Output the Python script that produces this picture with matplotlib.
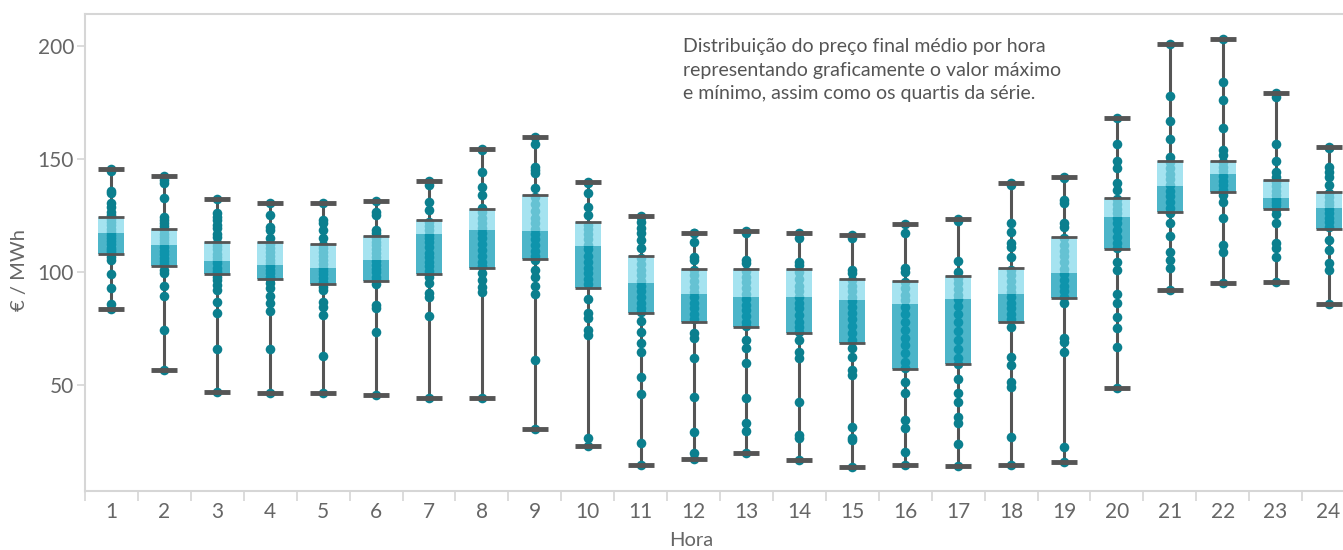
import matplotlib
matplotlib.use("Agg")
import matplotlib.pyplot as plt
import numpy as np

plt.rcParams['font.family'] = ['Lato', 'DejaVu Sans']

hours = list(range(1, 25))

# box stats
q1 = [108.1, 102.8, 99.1, 96.8, 94.8, 96.0, 99.1, 101.9, 105.9, 93.1, 82.0, 78.0,
      75.8, 73.0, 68.6, 57.2, 59.4, 78.0, 88.5, 110.3, 126.7, 135.4, 127.9, 119.0]
med = [117.3, 111.9, 104.9, 103.1, 101.8, 105.3, 116.8, 118.6, 118.1, 111.5, 95.1, 90.3,
       88.9, 89.1, 87.6, 86.0, 88.2, 90.3, 99.4, 124.5, 138.0, 143.4, 132.6, 128.3]
q3 = [124.5, 119.2, 113.3, 113.3, 112.4, 115.9, 123.1, 127.9, 134.1, 122.3, 107.2, 101.5,
      101.5, 101.2, 97.0, 96.2, 98.4, 101.9, 115.6, 132.9, 149.1, 149.1, 140.7, 135.3]

# individual daily prices per hour
h01 = [145.6, 144.8, 136.0, 134.8, 130.4, 128.6, 126.7, 125.2, 123.5, 122.0, 120.6, 119.0, 117.8,
       116.5, 115.0, 113.6, 112.2, 110.8, 109.6, 109.0, 106.8, 105.3, 99.0, 93.0, 85.7, 83.6]
h02 = [142.6, 140.7, 139.2, 132.6, 124.5, 123.0, 121.5, 120.2, 118.5, 117.0, 115.6, 114.0, 112.8,
       111.0, 109.5, 108.0, 106.4, 104.8, 103.5, 100.9, 99.4, 93.9, 89.4, 74.5, 56.8]
h03 = [132.3, 126.0, 124.5, 123.0, 120.8, 119.3, 117.0, 115.5, 113.0, 111.5, 110.0, 108.2, 106.5,
       105.2, 103.8, 102.0, 100.5, 99.5, 97.9, 96.5, 94.2, 92.0, 86.6, 82.0, 66.1, 47.0]
h04 = [130.7, 125.2, 120.0, 118.6, 114.9, 112.5, 110.8, 109.0, 107.3, 105.5, 104.0, 102.5, 100.8,
       99.5, 98.0, 97.0, 95.0, 92.8, 89.4, 86.2, 82.9, 66.1, 46.6]
h05 = [130.7, 123.0, 121.5, 118.6, 114.9, 112.0, 110.5, 108.8, 107.0, 105.2, 103.5, 102.0, 100.5,
       99.0, 97.5, 95.5, 93.5, 92.0, 86.9, 84.6, 81.0, 62.8, 46.3]
h06 = [131.5, 126.7, 125.2, 118.6, 117.1, 115.0, 113.5, 111.8, 110.0, 108.3, 106.5, 105.0, 103.2,
       101.5, 99.8, 98.0, 96.5, 94.6, 85.4, 83.9, 73.6, 45.6]
h07 = [140.4, 138.5, 131.1, 127.4, 122.0, 120.2, 118.5, 116.5, 115.0, 113.4, 111.0, 108.5, 106.5,
       104.6, 102.5, 100.5, 99.3, 97.9, 95.0, 90.6, 89.1, 80.7, 44.1]
h08 = [154.4, 154.0, 144.4, 137.7, 134.1, 128.2, 126.5, 124.0, 121.5, 119.5, 117.5, 114.9, 112.5,
       109.7, 107.0, 104.5, 102.5, 99.4, 96.5, 93.5, 91.3, 44.1]
h09 = [159.9, 156.6, 146.6, 145.1, 143.7, 137.0, 133.0, 130.0, 127.0, 124.0, 121.5, 119.0, 117.0,
       114.5, 112.0, 109.5, 107.0, 105.3, 100.9, 97.9, 93.9, 90.3, 61.1, 30.7]
h10 = [140.0, 139.2, 134.8, 128.6, 125.2, 121.0, 119.0, 117.0, 114.5, 112.0, 110.0, 107.0, 104.5,
       102.0, 99.5, 97.0, 94.5, 88.1, 81.8, 79.5, 74.3, 72.1, 26.4, 23.1]
h11 = [124.9, 124.5, 122.3, 119.3, 117.1, 114.2, 110.5, 106.0, 103.5, 101.0, 98.5, 96.0, 94.0,
       91.5, 89.0, 86.5, 84.0, 82.5, 78.5, 73.3, 68.7, 64.5, 53.7, 46.0, 24.5, 14.6]
h12 = [117.4, 117.1, 113.4, 106.8, 105.3, 101.0, 98.5, 96.0, 93.5, 91.0, 89.0, 86.5, 84.0,
       81.5, 79.0, 72.9, 70.7, 62.1, 44.8, 29.3, 19.8, 17.3]
h13 = [118.3, 117.1, 105.3, 103.8, 100.5, 98.0, 95.5, 93.0, 90.5, 88.0, 85.5, 83.0, 80.5,
       78.0, 76.0, 69.9, 66.2, 59.6, 44.1, 33.1, 29.8, 19.8]
h14 = [117.3, 114.9, 104.6, 103.1, 100.0, 97.0, 94.0, 91.5, 89.0, 86.5, 84.0, 81.0, 78.0,
       75.5, 73.5, 69.9, 64.7, 61.8, 42.6, 27.9, 26.4, 16.8]
h15 = [116.5, 114.9, 100.9, 99.4, 96.5, 94.0, 91.5, 89.0, 87.0, 84.5, 82.0, 79.0, 76.0,
       73.0, 70.0, 66.2, 62.5, 56.6, 54.4, 31.6, 26.4, 25.7, 13.8]
h16 = [121.2, 117.4, 101.6, 100.1, 95.5, 93.0, 90.0, 87.5, 84.5, 81.5, 78.0, 74.5, 71.0,
       67.5, 64.0, 60.0, 57.5, 51.5, 46.3, 34.5, 30.8, 20.5, 14.6]
h17 = [123.5, 122.5, 105.0, 100.1, 97.5, 95.0, 92.5, 90.0, 88.0, 85.0, 81.5, 78.0, 74.0,
       70.0, 66.0, 62.0, 59.5, 52.7, 46.3, 42.6, 36.0, 33.1, 23.8, 14.2]
h18 = [139.2, 138.5, 121.5, 117.6, 112.7, 111.2, 106.8, 101.0, 98.5, 96.0, 93.5, 91.0, 89.0,
       86.5, 84.0, 81.5, 79.0, 75.8, 62.5, 58.8, 51.5, 49.3, 26.8, 14.6]
h19 = [142.2, 141.5, 131.9, 130.4, 121.5, 120.0, 115.0, 112.0, 109.5, 107.0, 104.5, 101.5, 99.0,
       96.5, 94.0, 91.5, 89.0, 86.2, 70.7, 69.2, 64.7, 22.7, 16.1]
h20 = [168.3, 156.6, 149.2, 145.9, 139.2, 136.3, 132.5, 130.0, 128.0, 126.0, 124.0, 121.5, 118.5,
       115.5, 113.0, 110.5, 104.6, 100.9, 90.1, 86.2, 80.2, 75.1, 66.9, 48.5]
h21 = [200.9, 177.9, 166.9, 158.8, 151.0, 148.5, 146.0, 143.5, 141.0, 138.5, 136.0, 133.5, 131.0,
       128.5, 126.2, 121.8, 116.1, 109.0, 105.3, 101.6, 92.0]
h22 = [203.2, 183.9, 176.1, 163.6, 154.0, 151.8, 148.5, 146.5, 144.5, 142.5, 140.5, 138.5, 136.5,
       134.1, 131.1, 123.8, 112.0, 109.0, 95.3]
h23 = [179.4, 177.6, 156.8, 149.2, 144.4, 142.2, 140.0, 138.0, 136.0, 134.0, 132.5, 131.0, 129.5,
       128.0, 125.5, 121.8, 112.7, 110.5, 106.8, 95.4]
h24 = [155.3, 154.7, 146.3, 144.4, 142.2, 138.5, 135.0, 133.0, 131.0, 129.5, 128.0, 126.0, 124.0,
       122.0, 120.0, 114.2, 109.7, 103.8, 100.9, 85.7]

prices = [h01, h02, h03, h04, h05, h06, h07, h08, h09, h10, h11, h12,
          h13, h14, h15, h16, h17, h18, h19, h20, h21, h22, h23, h24]

note = ("Distribuição do preço final médio por hora\n"
        "representando graficamente o valor máximo\n"
        "e mínimo, assim como os quartis da série.")

W, H = 1343, 550
fig = plt.figure(figsize=(W / 100, H / 100), dpi=100)
ax = fig.add_axes([85 / W, 59 / H, 1270 / W, 477 / H])

grey_txt = '#666666'
spine_c = '#d6d6d6'
dot_c = '#0b7f8e'
dark = '#555555'
bw = 0.49

lo = [min(p) for p in prices]
hi = [max(p) for p in prices]

ax.vlines(hours, lo, hi, color=dark, lw=2.2, zorder=1)
for h, p in zip(hours, prices):
    ax.scatter([h] * len(p), p, s=48, color=dot_c, linewidths=0, zorder=2)

ax.bar(hours, np.array(q3) - np.array(med), bottom=med, width=bw,
       color=(134 / 255, 218 / 255, 236 / 255), alpha=0.74, zorder=3, linewidth=0)
ax.bar(hours, np.array(med) - np.array(q1), bottom=q1, width=bw,
       color=(16 / 255, 156 / 255, 183 / 255), alpha=0.75, zorder=3, linewidth=0)

x = np.array(hours)
ax.hlines(q1, x - bw / 2, x + bw / 2, color=dark, lw=2, zorder=4)
ax.hlines(q3, x - bw / 2, x + bw / 2, color=dark, lw=2, zorder=4)
ax.hlines(lo, x - bw / 2, x + bw / 2, color=dark, lw=3.5, zorder=4)
ax.hlines(hi, x - bw / 2, x + bw / 2, color=dark, lw=3.5, zorder=4)

ax.set_xlim(0.5, 24.5)
ax.set_ylim(3.1, 214.2)

for s in ['top', 'left', 'bottom']:
    ax.spines[s].set_color(spine_c)
    ax.spines[s].set_linewidth(1.5)
ax.spines['right'].set_visible(False)

ax.set_xticks(hours)
ax.set_xticklabels([str(h) for h in hours])
ax.set_xticks(np.arange(0.5, 25, 1), minor=True)
ax.tick_params(axis='x', which='major', length=0, pad=8, labelsize=15, labelcolor=grey_txt)
ax.tick_params(axis='x', which='minor', length=7, width=1.2, color=spine_c)
ax.set_yticks([50, 100, 150, 200])
ax.tick_params(axis='y', length=6, width=1.2, color=spine_c, pad=2,
               labelsize=15, labelcolor=grey_txt)

fig.text(691 / W, 1 - 540 / H, 'Hora', ha='center', va='center', fontsize=14.5, color=grey_txt)
fig.text(20 / W, 1 - 270 / H, '€ / MWh', ha='center', va='center', rotation=90,
         fontsize=14.5, color=grey_txt)
fig.text(683 / W, 1 - 99 / H, note, ha='left', va='baseline', fontsize=14,
         color='#555555', linespacing=1.45)

fig.savefig('out.png', dpi=100)
